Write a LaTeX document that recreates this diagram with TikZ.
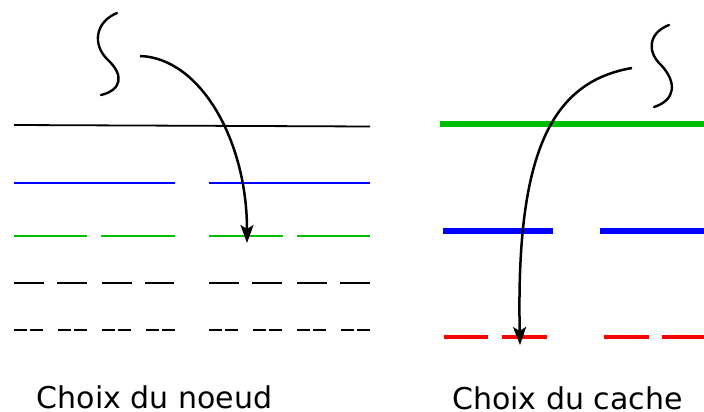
\documentclass[tikz,border=0pt]{standalone}
\usepackage{fontspec}
\setmainfont{DejaVu Sans}
\usetikzlibrary{arrows.meta}
\begin{document}
\begin{tikzpicture}[x=1pt,y=-1pt,
  thinline/.style={line width=1.8pt},
  smalldash/.style={line width=1.4pt},
  thickline/.style={line width=6pt},
  breakmark/.style={line width=2.4pt, line cap=round},
  flow/.style={line width=2.5pt, -{Stealth[length=18pt,width=13pt,inset=4pt]}},
  label/.style={font=\fontsize{30}{36}\selectfont, anchor=base, inner sep=0pt, text depth=0pt}]
\useasboundingbox (0,0) rectangle (704,412);
% ---------- left: Choix du noeud ----------
\draw[thinline, black] (14,125) -- (370,126.5);
\draw[thinline, blue] (14,183) -- (175,183);
\draw[thinline, blue] (209,183) -- (370,183);
\foreach \a/\b in {14/87,101/175,209/283,297/370}
  \draw[thinline, green!75!black] (\a,236) -- (\b,236);
\foreach \a/\b in {14/44,57/87,102/132,145/174,209/239,252/282,297/327,340/370}
  \draw[thinline, black] (\a,283) -- (\b,283);
\foreach \a in {14,58,102,146,209,253,297,341}
  {\draw[smalldash, black] (\a,330) -- ++(12.5,0);
   \draw[smalldash, black] (\a+16,330) -- ++(12.5,0);}
\draw[breakmark] (117,13) .. controls (95,22) and (92,45) .. (108,60)
                  .. controls (124,75) and (122,90) .. (101,95);
\coordinate (ls) at (140,56);
\coordinate (le) at (247,243);
\draw[flow] (ls) .. controls (200,58) and (247,140) .. (le);
\node[label] (lt) at (154.5,408) {Choix du noeud};
% ---------- right: Choix du cache ----------
\draw[thickline, green!75!black] (440,123.7) -- (704,123.7);
\draw[thickline, blue] (443,230.5) -- (553,230.5);
\draw[thickline, blue] (600,230.5) -- (704,230.5);
\foreach \a/\b in {444/488,502/547,604/649,662/704}
  \draw[line width=4pt, red] (\a,337) -- (\b,337);
\draw[breakmark] (669,25) .. controls (648,33) and (647,52) .. (661,65)
                  .. controls (677,82) and (676,100) .. (654,107);
\coordinate (rs) at (632,68);
\coordinate (re) at (520,345);
\draw[flow] (rs) .. controls (550,82) and (516,155) .. (re);
\node[label] (rt) at (567.5,409) {Choix du cache};
\end{tikzpicture}
\end{document}
